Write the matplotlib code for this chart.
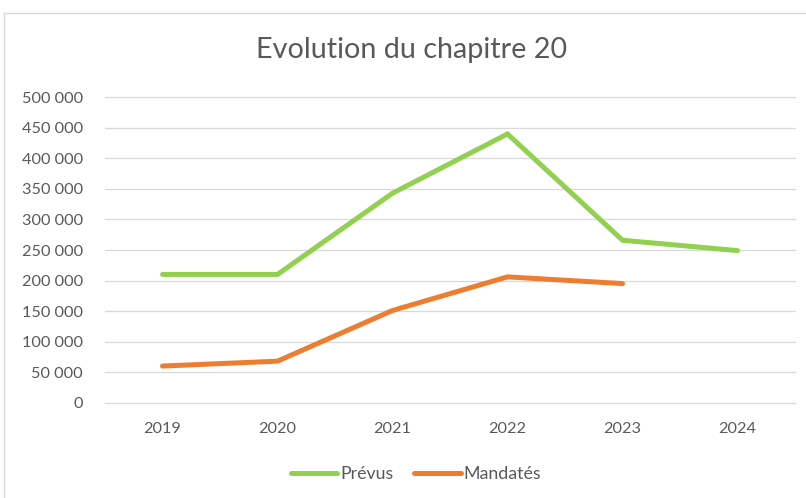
import matplotlib
matplotlib.use("Agg")
import matplotlib.pyplot as plt
from matplotlib.lines import Line2D
from matplotlib.ticker import FuncFormatter, MultipleLocator

years = ["2019", "2020", "2021", "2022", "2023", "2024"]
prevus = [210000, 210000, 343000, 440000, 266000, 249000]
mandates = [60000, 68000, 151000, 206000, 195000]

title = "Evolution du chapitre 20"
green = "#92D050"
orange = "#ED7D31"
txt = "#595959"
grid = "#D9D9D9"
font = ["Lato", "DejaVu Sans"]
plt.rcParams["font.family"] = font

fig = plt.figure(figsize=(8.06, 4.98), dpi=100)
ax = fig.add_axes([105 / 806, 1 - 402.7 / 498, (795 - 105) / 806, (402.7 - 97.3) / 498])

x = list(range(len(years)))
ax.plot(x, prevus, color=green, lw=3.6, solid_capstyle="round", solid_joinstyle="miter", label="Prévus")
ax.plot(x[:len(mandates)], mandates, color=orange, lw=3.6, solid_capstyle="round", solid_joinstyle="miter", label="Mandatés")

ax.set_xlim(-0.5, len(years) - 0.5)
ax.set_ylim(0, 500000)
ax.yaxis.set_major_locator(MultipleLocator(50000))
ax.yaxis.set_major_formatter(FuncFormatter(lambda v, p: f"{int(v):,}".replace(",", " ")))
ax.set_xticks(x)
ax.set_xticklabels(years)
ax.grid(axis="y", color=grid, lw=0.9)
for gl in ax.get_ygridlines():
    gl.set_clip_on(False)
ax.set_axisbelow(True)
for s in ax.spines.values():
    s.set_visible(False)
ax.tick_params(length=0, colors=txt, labelsize=11.7)
ax.tick_params(axis="y", pad=16)
ax.tick_params(axis="x", pad=14)

fig.text(412 / 806, 1 - 50 / 498, title, ha="center", va="center", fontsize=20.7, color=txt)

fig.legend(loc="center", bbox_to_anchor=(416 / 806, 1 - 474 / 498), ncol=2, frameon=False,
           fontsize=12.8, labelcolor=txt, handlelength=2.6, handletextpad=0.17, columnspacing=1.2)

fig.add_artist(Line2D([4 / 806, 4 / 806], [0, 1 - 13 / 498], color=grid, lw=1, transform=fig.transFigure))
fig.add_artist(Line2D([4 / 806, 1], [1 - 13 / 498, 1 - 13 / 498], color=grid, lw=1, transform=fig.transFigure))

fig.savefig("out.png", dpi=100)
